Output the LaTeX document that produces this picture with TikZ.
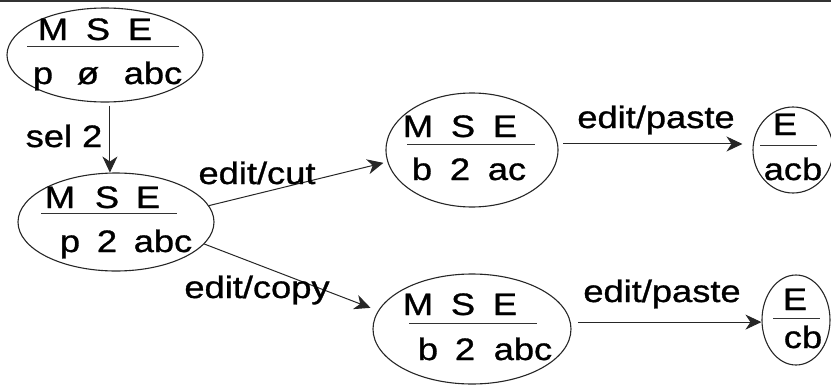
\documentclass[tikz,border=0pt]{standalone}
\usepackage{fontspec}
\setmainfont[FakeStretch=1.17, FakeBold=1]{Liberation Sans}
\usetikzlibrary{arrows.meta,shapes.geometric}
\newcommand{\fsz}{\fontsize{31}{37}\selectfont}
\tikzset{
  state/.style={ellipse, draw, line width=1.1pt, inner sep=0pt, black!85},
  txt/.style={anchor=base, inner sep=0pt, font=\fsz},
  bar/.style={line width=1pt, black!80},
  conn/.style={line width=1pt, black!85, -{Stealth[length=16pt, width=15pt, inset=5pt]}},
  lbl/.style={anchor=base, inner sep=0pt, font=\fsz}
}
\begin{document}
\begin{tikzpicture}[x=1pt, y=-1pt]
\useasboundingbox (0,0) rectangle (831,386);
\draw[line width=2.5pt, black!80] (0,0.5) -- (831,0.5);

% node 1
\node[state, minimum width=196pt, minimum height=94pt] (n1) at (105,55) {};
\node[txt] (n1m) at (53,40) {M};
\node[txt] (n1s) at (98,40) {S};
\node[txt] (n1e) at (140,40) {E};
\draw[bar] (27,46) -- (179,46);
\node[txt] (n1p) at (43,84) {p};
\node[txt] (n1o) at (88,84) {ø};
\node[txt] (n1a) at (153,84) {abc};

% node 2
\node[state, minimum width=196pt, minimum height=98pt] (n2) at (116,222) {};
\node[txt] (n2m) at (60,208) {M};
\node[txt] (n2s) at (107,208) {S};
\node[txt] (n2e) at (148,208) {E};
\draw[bar] (41,213) -- (177,213);
\node[txt] (n2p) at (70,252) {p};
\node[txt] (n2t) at (107,252) {2};
\node[txt] (n2a) at (163,252) {abc};

% node 3
\node[state, minimum width=172pt, minimum height=114pt] (n3) at (472,150) {};
\node[txt] (n3m) at (418,137) {M};
\node[txt] (n3s) at (463,137) {S};
\node[txt] (n3e) at (505,137) {E};
\draw[bar] (407,144) -- (535,144);
\node[txt] (n3b) at (422,180) {b};
\node[txt] (n3t) at (460,180) {2};
\node[txt] (n3a) at (507,180) {ac};

% node 4
\node[state, minimum width=198pt, minimum height=110pt] (n4) at (472,329) {};
\node[txt] (n4m) at (418,315) {M};
\node[txt] (n4s) at (463,315) {S};
\node[txt] (n4e) at (505,315) {E};
\draw[bar] (409,323) -- (537,323);
\node[txt] (n4b) at (428,360) {b};
\node[txt] (n4t) at (465,360) {2};
\node[txt] (n4a) at (523,360) {abc};

% node 5
\node[state, minimum width=80pt, minimum height=86pt] (n5) at (793,150) {};
\node[txt] (n5e) at (785,135) {E};
\draw[bar] (760,145) -- (817,145);
\node[txt] (n5a) at (793,180) {acb};

% node 6
\node[state, minimum width=68pt, minimum height=90pt] (n6) at (796,320) {};
\node[txt] (n6e) at (795,310) {E};
\draw[bar] (773,318) -- (820,318);
\node[txt] (n6a) at (803,348) {cb};

% connectors
\draw[conn, shorten <=3pt] (n1.south -| n2.97) -- (n2.97);
\node[lbl] (l1) at (64,147) {sel 2};
\draw[conn, shorten >=4pt] (n2.10) -- (n3.188);
\node[lbl] (l2) at (257,184) {edit/cut};
\draw[conn, shorten >=8pt] (n2.-14) -- (n4.169);
\node[lbl] (l3) at (257,298) {edit/copy};
\draw[conn, shorten <=5pt, shorten >=10pt] (n3.4) -- (n3.4 -| n5.west);
\node[lbl] (l4) at (656,128) {edit/paste};
\draw[conn, shorten <=7pt] (n4.4) -- (n4.4 -| n6.west);
\node[lbl] (l5) at (662,302) {edit/paste};
\end{tikzpicture}
\end{document}
